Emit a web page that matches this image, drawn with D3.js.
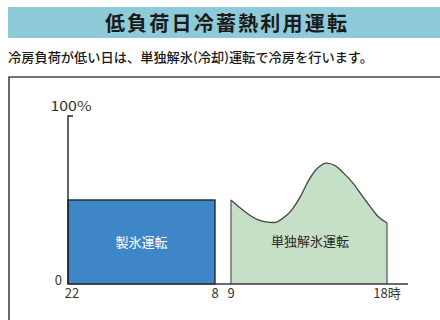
<!DOCTYPE html>
<html>
<head>
<meta charset="utf-8">
<script src="https://cdn.jsdelivr.net/npm/d3@7"></script>
<style>
  html, body { margin: 0; padding: 0; background: #fff; }
  svg { display: block; }
  text { font-family: "Noto Sans CJK JP", "Noto Sans", sans-serif; }
</style>
</head>
<body>
<svg id="chart" width="440" height="320"></svg>
<script>
// Titles
const title = "低負荷日冷蓄熱利用運転";
const subtitle = "冷房負荷が低い日は、単独解氷(冷却)運転で冷房を行います。";

// Time axis: clock hours (22 -> next-day 8, then 9 -> 18)
const tickHours = [22, 8, 9, 18];
const tickLabels = ["22", "8", "9", "18時"];

// Night ice-making run (load %, constant)
const iceStart = 22, iceEnd = 8, iceLoad = 50;
const iceLabel = "製氷運転";

// Daytime ice-melt only cooling: load % by clock hour
const meltHours  = [9, 9.5, 10, 10.5, 11, 11.5, 12, 12.5, 13, 13.5, 14, 14.5, 15, 15.5, 16, 16.5, 17, 17.5, 18];
const meltLoad   = [50, 45.5, 41.5, 38.5, 37, 36.6, 39.2, 44, 52, 62, 69, 72, 70.5, 66, 60.5, 53.5, 46.5, 40, 36.3];
const meltLabel = "単独解氷運転";

// Y-axis labels
const yTickLabels = ["0", "100%"];

const svg = d3.select("#chart");

// Continuous hour counter across midnight
const cont = h => (h < 22 ? h + 24 : h);

// Piecewise scale: night span, short gap, then day span
const x = d3.scaleLinear()
  .domain([cont(22), cont(8), cont(9), cont(18)])
  .range([68, 215, 231, 387]);
const y = d3.scaleLinear().domain([0, 100]).range([284, 116]);

// Title band
svg.append("rect")
  .attr("x", 8).attr("y", 7).attr("width", 432).attr("height", 31)
  .attr("fill", "#8dcbd9");
svg.append("text")
  .attr("x", 227).attr("y", 31)
  .attr("text-anchor", "middle")
  .attr("font-size", 20).attr("font-weight", "bold")
  .attr("letter-spacing", 2.2)
  .attr("fill", "#1a1a1a")
  .text(title);

// Subtitle
svg.append("text")
  .attr("x", 8).attr("y", 62)
  .attr("font-size", 13)
  .attr("font-weight", 500)
  .attr("textLength", 365).attr("lengthAdjust", "spacingAndGlyphs")
  .attr("fill", "#1a1a1a")
  .text(subtitle);

// Frame (open at right and bottom)
svg.append("path")
  .attr("d", "M9,330 L9,77 L450,77")
  .attr("fill", "none").attr("stroke", "#444").attr("stroke-width", 1.6);

// Ice-making block
svg.append("rect")
  .attr("x", x(cont(iceStart)))
  .attr("y", y(iceLoad))
  .attr("width", x(cont(iceEnd)) - x(cont(iceStart)))
  .attr("height", y(0) - y(iceLoad))
  .attr("fill", "#3f86c8")
  .attr("stroke", "#1e2a35").attr("stroke-width", 1.4);

svg.append("text")
  .attr("x", (x(cont(iceStart)) + x(cont(iceEnd))) / 2)
  .attr("y", (y(iceLoad) + y(0)) / 2 + 5)
  .attr("text-anchor", "middle")
  .attr("font-size", 13)
  .attr("fill", "#fff")
  .text(iceLabel);

// Ice-melt area
const meltData = meltHours.map((h, i) => ({ h: cont(h), v: meltLoad[i] }));
const area = d3.area()
  .x(d => x(d.h))
  .y0(y(0))
  .y1(d => y(d.v))
  .curve(d3.curveMonotoneX);
svg.append("path")
  .datum(meltData)
  .attr("d", area)
  .attr("fill", "#c5e0c6");

// Outline of the melt area: left edge, load curve, right edge
const line = d3.line()
  .x(d => x(d.h))
  .y(d => y(d.v))
  .curve(d3.curveMonotoneX);
const first = meltData[0], last = meltData[meltData.length - 1];
svg.append("path")
  .attr("d", `M${x(first.h)},${y(0)}L${x(first.h)},${y(first.v)}`)
  .attr("stroke", "#666").attr("stroke-width", 1.4).attr("fill", "none");
svg.append("path")
  .attr("d", `M${x(last.h)},${y(0)}L${x(last.h)},${y(last.v)}`)
  .attr("stroke", "#666").attr("stroke-width", 1.4).attr("fill", "none");
svg.append("path")
  .datum(meltData)
  .attr("d", line)
  .attr("stroke", "#444").attr("stroke-width", 1.3).attr("fill", "none");

svg.append("text")
  .attr("x", 310)
  .attr("y", y(0) - 38)
  .attr("text-anchor", "middle")
  .attr("font-size", 13)
  .attr("fill", "#2a2a2a")
  .text(meltLabel);

// Axes
svg.append("path")
  .attr("d", `M${x(cont(22))},${y(0)}L408,${y(0)}`)
  .attr("stroke", "#3a3a3a").attr("stroke-width", 1.6);
svg.append("path")
  .attr("d", `M${x(cont(22)) + 5},${y(100)}L${x(cont(22))},${y(100)}L${x(cont(22))},${y(0)}`)
  .attr("stroke", "#222").attr("stroke-width", 1.4).attr("fill", "none");

// Y labels
svg.append("text")
  .attr("x", 62).attr("y", y(0) + 1)
  .attr("text-anchor", "end")
  .attr("font-size", 13).attr("font-family", "Liberation Sans, sans-serif")
  .attr("fill", "#333")
  .text(yTickLabels[0]);
svg.append("text")
  .attr("x", 71).attr("y", y(100) - 5)
  .attr("text-anchor", "middle")
  .attr("font-size", 13).attr("font-family", "Liberation Sans, sans-serif")
  .attr("textLength", 41).attr("lengthAdjust", "spacingAndGlyphs")
  .attr("fill", "#333")
  .text(yTickLabels[1]);

// X labels
svg.selectAll("text.xtick")
  .data(tickHours)
  .join("text")
  .attr("class", "xtick")
  .attr("x", (d, i) => x(cont(d)) + (i === 0 ? 4 : 0))
  .attr("y", y(0) + 14)
  .attr("text-anchor", "middle")
  .attr("font-size", 13)
  .attr("fill", "#333")
  .text((d, i) => tickLabels[i]);
</script>
</body>
</html>
